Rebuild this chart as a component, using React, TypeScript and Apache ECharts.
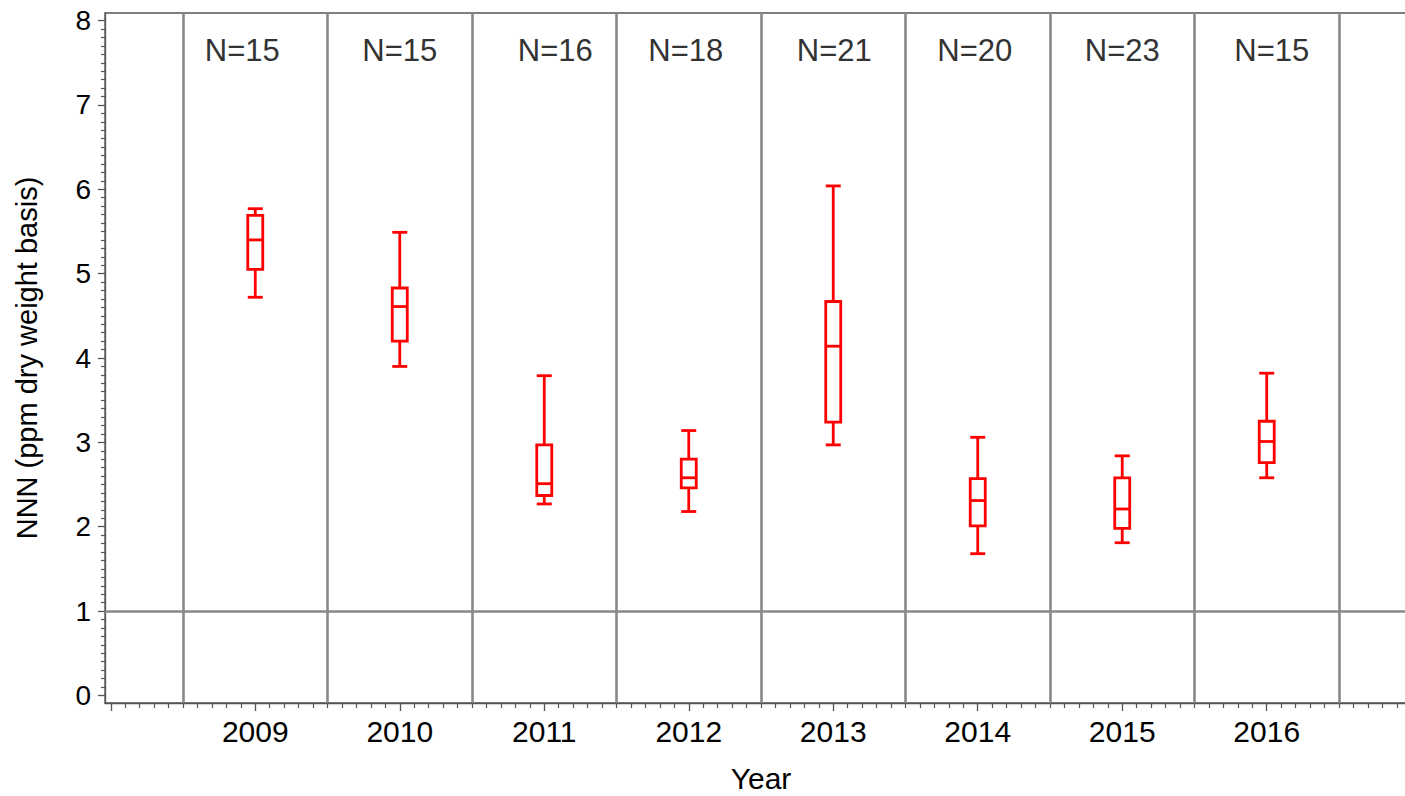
import React, { useEffect, useRef } from "react";
import * as echarts from "echarts";

// ---- data ----
const years = [2009, 2010, 2011, 2012, 2013, 2014, 2015, 2016];
const counts = [15, 15, 16, 18, 21, 20, 23, 15];
const whiskerLow = [4.72, 3.9, 2.27, 2.18, 2.97, 1.68, 1.81, 2.58];
const q1 = [5.05, 4.2, 2.37, 2.46, 3.24, 2.01, 1.98, 2.76];
const median = [5.4, 4.61, 2.51, 2.58, 4.14, 2.31, 2.21, 3.01];
const q3 = [5.69, 4.83, 2.97, 2.8, 4.67, 2.57, 2.58, 3.25];
const whiskerHigh = [5.77, 5.49, 3.79, 3.14, 6.04, 3.06, 2.84, 3.82];
const dividers = [2008.5, 2009.5, 2010.5, 2011.5, 2012.5, 2013.5, 2014.5, 2015.5, 2016.5];
const refLineY = 1;
const yTickValues = [0, 1, 2, 3, 4, 5, 6, 7, 8];
const xTickValues = [2008, 2009, 2010, 2011, 2012, 2013, 2014, 2015, 2016, 2017];
const xLabelValues = years;
const nLabelY = 7.64;
// layout: horizontal pixel nudges of the N= labels
const nLabelOffsets = [-13, 0, 11, -3, 1, -3, 0, 5];

const FONT = "'Liberation Sans', Arial, sans-serif";

export default function App() {
  const ref = useRef<HTMLDivElement>(null);
  useEffect(() => {
    if (!ref.current) return;
    const chart = echarts.init(ref.current, null, { renderer: "svg" });
    const boxData = years.map((y, i) => [y, whiskerLow[i], q1[i], median[i], q3[i], whiskerHigh[i]]);
    const nData = years.map((y, i) => [y, nLabelY, counts[i], nLabelOffsets[i]]);
    const red = "#ff0000";
    const axisColor = "#555555";
    chart.setOption({
      animation: false,
      backgroundColor: "#ffffff",
      textStyle: { fontFamily: FONT },
      grid: {
        left: 105,
        right: 8,
        top: 13,
        bottom: 93,
        show: true,
        borderColor: axisColor,
        borderWidth: 1.3,
        backgroundColor: "transparent",
        containLabel: false,
        outerBoundsMode: "none",
      },
      xAxis: {
        type: "value",
        min: 2007.96,
        max: 2017.04,
        splitNumber: 9,
        name: "Year",
        nameLocation: "middle",
        nameGap: 60,
        nameTextStyle: { fontSize: 30, color: "#000", fontFamily: FONT },
        axisLine: { show: true, onZero: false, lineStyle: { color: axisColor, width: 1.3 } },
        axisTick: { show: true, length: 8, customValues: xTickValues, lineStyle: { color: axisColor, width: 1.3 } },
        minorTick: { show: true, splitNumber: 10, length: 5, lineStyle: { color: axisColor, width: 1.2 } },
        axisLabel: {
          customValues: xLabelValues,
          formatter: (v: number) => String(v),
          fontSize: 30,
          color: "#000",
          margin: 13,
          fontFamily: FONT,
        },
        splitLine: { show: false },
      },
      yAxis: {
        type: "value",
        min: -0.09,
        max: 8.09,
        splitNumber: 8,
        name: "NNN (ppm dry weight basis)",
        nameLocation: "middle",
        nameGap: 64,
        nameRotate: 90,
        nameTextStyle: { fontSize: 29, color: "#000", fontFamily: FONT },
        axisLine: { show: true, onZero: false, lineStyle: { color: axisColor, width: 1.3 } },
        axisTick: { show: true, length: 7, customValues: yTickValues, lineStyle: { color: axisColor, width: 1.3 } },
        minorTick: { show: true, splitNumber: 10, length: 4, lineStyle: { color: axisColor, width: 1.2 } },
        axisLabel: {
          customValues: yTickValues,
          formatter: (v: number) => String(v),
          fontSize: 28,
          color: "#000",
          margin: 14,
          fontFamily: FONT,
        },
        splitLine: { show: false },
      },
      series: [
        {
          type: "custom",
          name: "box",
          data: boxData,
          encode: { x: 0, y: [1, 2, 3, 4, 5] },
          clip: false,
          z: 5,
          renderItem: (params: any, api: any) => {
            const x = api.value(0);
            const lo = api.coord([x, api.value(1)]);
            const b1 = api.coord([x, api.value(2)]);
            const md = api.coord([x, api.value(3)]);
            const b3 = api.coord([x, api.value(4)]);
            const hi = api.coord([x, api.value(5)]);
            const cx = lo[0];
            const hw = 7.5;
            const style = { stroke: red, lineWidth: 2.8, fill: "transparent" };
            return {
              type: "group",
              children: [
                { type: "line", shape: { x1: cx, y1: hi[1], x2: cx, y2: b3[1] }, style },
                { type: "line", shape: { x1: cx, y1: b1[1], x2: cx, y2: lo[1] }, style },
                { type: "line", shape: { x1: cx - hw, y1: hi[1], x2: cx + hw, y2: hi[1] }, style },
                { type: "line", shape: { x1: cx - hw, y1: lo[1], x2: cx + hw, y2: lo[1] }, style },
                { type: "rect", shape: { x: cx - hw, y: b3[1], width: 2 * hw, height: b1[1] - b3[1] }, style },
                { type: "line", shape: { x1: cx - hw, y1: md[1], x2: cx + hw, y2: md[1] }, style },
              ],
            };
          },
          markLine: {
            silent: true,
            symbol: "none",
            label: { show: false },
            lineStyle: { color: "#888888", width: 2.6, type: "solid" },
            data: [...dividers.map((v) => ({ xAxis: v })), { yAxis: refLineY }],
          },
        },
        {
          type: "custom",
          name: "counts",
          data: nData,
          encode: { x: 0, y: 1 },
          z: 6,
          renderItem: (params: any, api: any) => {
            const p = api.coord([api.value(0), api.value(1)]);
            return {
              type: "text",
              x: p[0] + api.value(3),
              y: p[1],
              style: {
                text: "N=" + api.value(2),
                fontSize: 31,
                fontFamily: FONT,
                fill: "#333333",
                align: "center",
                verticalAlign: "middle",
              },
            };
          },
        },
      ],
    });
    return () => chart.dispose();
  }, []);
  return (
    <div
      style={{ position: "fixed", left: 0, top: 0, width: 1405, height: 796, overflow: "hidden", background: "#fff" }}
    >
      <div ref={ref} style={{ width: 1425, height: 796 }} />
    </div>
  );
}
